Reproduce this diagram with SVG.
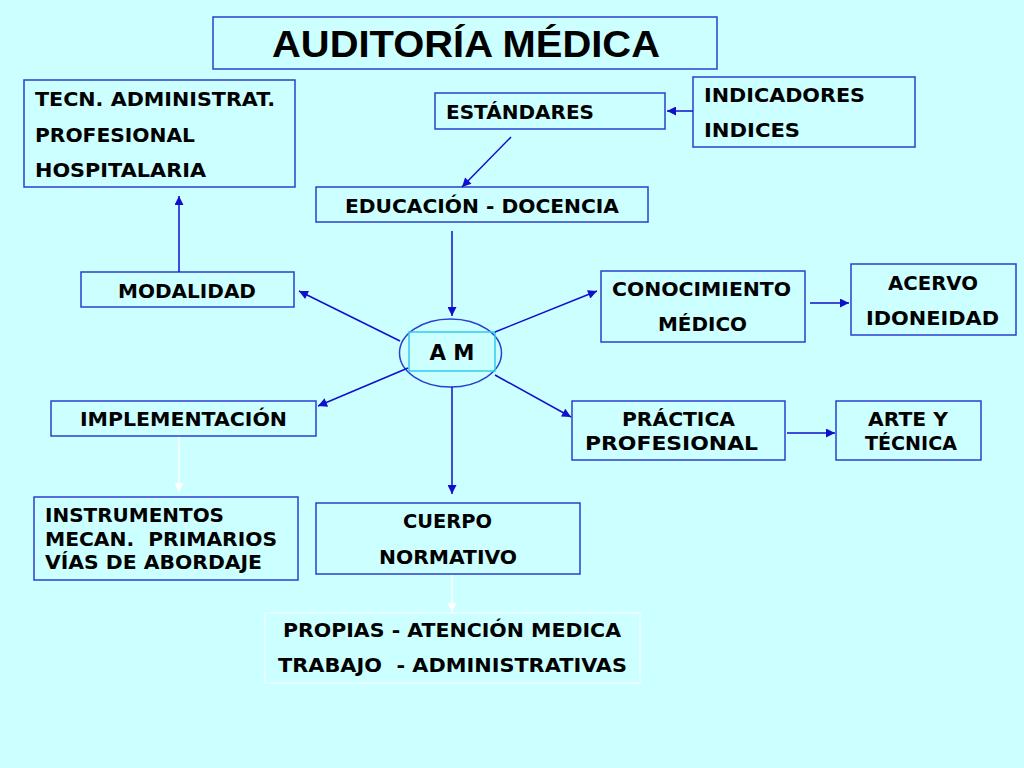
<svg xmlns="http://www.w3.org/2000/svg" width="1024" height="768" viewBox="0 0 1024 768">
<style>
.box{fill:none;stroke:#2a3fd0;stroke-width:1.5}
.t{font-family:"DejaVu Sans","Verdana",sans-serif;font-weight:bold;font-size:20px;fill:#000}
.c{text-anchor:middle}
.ln{stroke:#1010cc;stroke-width:1.5;fill:none}
.wl{stroke:#ffffff;stroke-width:1.5;fill:none}
</style>
<defs>
<marker id="ah" viewBox="0 0 10 10" refX="10" refY="5" markerUnits="userSpaceOnUse" markerWidth="10" markerHeight="9" orient="auto">
<path d="M0,0 L10,5 L0,10 z" fill="#1010cc"/>
</marker>
<marker id="aw" viewBox="0 0 10 10" refX="10" refY="5" markerUnits="userSpaceOnUse" markerWidth="10" markerHeight="9" orient="auto">
<path d="M0,0 L10,5 L0,10 z" fill="#ffffff"/>
</marker>
</defs>
<rect width="1024" height="768" fill="#ccffff"/>

<g id="title">
<rect class="box" x="213" y="17" width="504" height="52"/>
<text x="466" y="57" font-family="'Liberation Sans',Arial,sans-serif" font-weight="bold" font-size="36" text-anchor="middle" textLength="388" lengthAdjust="spacingAndGlyphs">AUDITORÍA MÉDICA</text>
</g>

<g id="tecn">
<rect class="box" x="24" y="80" width="271" height="107"/>
<text class="t" x="35" y="106" textLength="240" lengthAdjust="spacingAndGlyphs">TECN. ADMINISTRAT.</text>
<text class="t" x="35" y="142" textLength="160" lengthAdjust="spacingAndGlyphs">PROFESIONAL</text>
<text class="t" x="35" y="177" textLength="171" lengthAdjust="spacingAndGlyphs">HOSPITALARIA</text>
</g>

<g id="estandares">
<rect class="box" x="435" y="93" width="230" height="36"/>
<text class="t" x="446" y="119" textLength="148" lengthAdjust="spacingAndGlyphs">ESTÁNDARES</text>
</g>

<g id="indicadores">
<rect class="box" x="693" y="77" width="222" height="70"/>
<text class="t" x="704" y="102" textLength="161" lengthAdjust="spacingAndGlyphs">INDICADORES</text>
<text class="t" x="704" y="137" textLength="96" lengthAdjust="spacingAndGlyphs">INDICES</text>
</g>

<g id="educacion">
<rect class="box" x="316" y="187" width="332" height="35"/>
<text class="t" x="345" y="213" textLength="274" lengthAdjust="spacingAndGlyphs">EDUCACIÓN - DOCENCIA</text>
</g>

<g id="modalidad">
<rect class="box" x="81" y="272" width="213" height="35"/>
<text class="t" x="118" y="298" textLength="138" lengthAdjust="spacingAndGlyphs">MODALIDAD</text>
</g>

<g id="am">
<ellipse cx="450.5" cy="353" rx="51" ry="34" fill="none" stroke="#2a3fd0" stroke-width="1.5"/>
<rect x="409" y="332" width="86" height="39" fill="none" stroke="#33ccee" stroke-width="1.5"/>
<text x="452" y="360" font-family="'DejaVu Sans',Verdana,sans-serif" font-weight="bold" font-size="22" text-anchor="middle" textLength="45" lengthAdjust="spacingAndGlyphs">A M</text>
</g>

<g id="conocimiento">
<rect class="box" x="601" y="271" width="204" height="71"/>
<text class="t" x="612" y="296" textLength="179" lengthAdjust="spacingAndGlyphs">CONOCIMIENTO</text>
<text class="t" x="658" y="331" textLength="89" lengthAdjust="spacingAndGlyphs">MÉDICO</text>
</g>

<g id="acervo">
<rect class="box" x="851" y="264" width="165" height="71"/>
<text class="t" x="888" y="290" textLength="90" lengthAdjust="spacingAndGlyphs">ACERVO</text>
<text class="t" x="866" y="325" textLength="133" lengthAdjust="spacingAndGlyphs">IDONEIDAD</text>
</g>

<g id="practica">
<rect class="box" x="572" y="401" width="213" height="59"/>
<text class="t" x="622" y="426" textLength="113" lengthAdjust="spacingAndGlyphs">PRÁCTICA</text>
<text class="t" x="585" y="450" textLength="173" lengthAdjust="spacingAndGlyphs">PROFESIONAL</text>
</g>

<g id="arte">
<rect class="box" x="836" y="401" width="145" height="59"/>
<text class="t" x="868" y="426" textLength="80" lengthAdjust="spacingAndGlyphs">ARTE Y</text>
<text class="t" x="865" y="450" textLength="92" lengthAdjust="spacingAndGlyphs">TÉCNICA</text>
</g>

<g id="implementacion">
<rect class="box" x="51" y="401" width="265" height="35"/>
<text class="t" x="80" y="426" textLength="207" lengthAdjust="spacingAndGlyphs">IMPLEMENTACIÓN</text>
</g>

<g id="instrumentos">
<rect class="box" x="34" y="497" width="264" height="83"/>
<text class="t" x="45" y="522" textLength="179" lengthAdjust="spacingAndGlyphs">INSTRUMENTOS</text>
<text class="t" x="45" y="546" textLength="232" lengthAdjust="spacingAndGlyphs" xml:space="preserve">MECAN.  PRIMARIOS</text>
<text class="t" x="45" y="569" textLength="217" lengthAdjust="spacingAndGlyphs">VÍAS DE ABORDAJE</text>
</g>

<g id="cuerpo">
<rect class="box" x="316" y="503" width="264" height="71"/>
<text class="t" x="403" y="528" textLength="89" lengthAdjust="spacingAndGlyphs">CUERPO</text>
<text class="t" x="379" y="564" textLength="138" lengthAdjust="spacingAndGlyphs">NORMATIVO</text>
</g>

<g id="propias">
<rect x="265" y="613" width="375" height="70" fill="none" stroke="#eaffff" stroke-width="1.5"/>
<text class="t" x="283" y="637" textLength="338" lengthAdjust="spacingAndGlyphs">PROPIAS - ATENCIÓN MEDICA</text>
<text class="t" x="278" y="672" textLength="349" lengthAdjust="spacingAndGlyphs" xml:space="preserve">TRABAJO  - ADMINISTRATIVAS</text>
</g>

<g id="connectors">
<line class="ln" x1="693" y1="111" x2="667" y2="111" marker-end="url(#ah)"/>
<line class="ln" x1="511" y1="137" x2="462" y2="187" marker-end="url(#ah)"/>
<line class="ln" x1="452" y1="231" x2="452" y2="316" marker-end="url(#ah)"/>
<line class="ln" x1="400" y1="341" x2="299" y2="291" marker-end="url(#ah)"/>
<line class="ln" x1="179" y1="272" x2="179" y2="196" marker-end="url(#ah)"/>
<line class="ln" x1="495" y1="332" x2="597" y2="291" marker-end="url(#ah)"/>
<line class="ln" x1="810" y1="303" x2="849" y2="303" marker-end="url(#ah)"/>
<line class="ln" x1="408" y1="368" x2="318" y2="406" marker-end="url(#ah)"/>
<line class="ln" x1="495" y1="375" x2="571" y2="417" marker-end="url(#ah)"/>
<line class="ln" x1="787" y1="433" x2="835" y2="433" marker-end="url(#ah)"/>
<line class="ln" x1="452" y1="387" x2="452" y2="494" marker-end="url(#ah)"/>
<line class="wl" x1="179" y1="437" x2="179" y2="492" marker-end="url(#aw)"/>
<line class="wl" x1="452" y1="575" x2="452" y2="612" marker-end="url(#aw)"/>
</g>
</svg>
